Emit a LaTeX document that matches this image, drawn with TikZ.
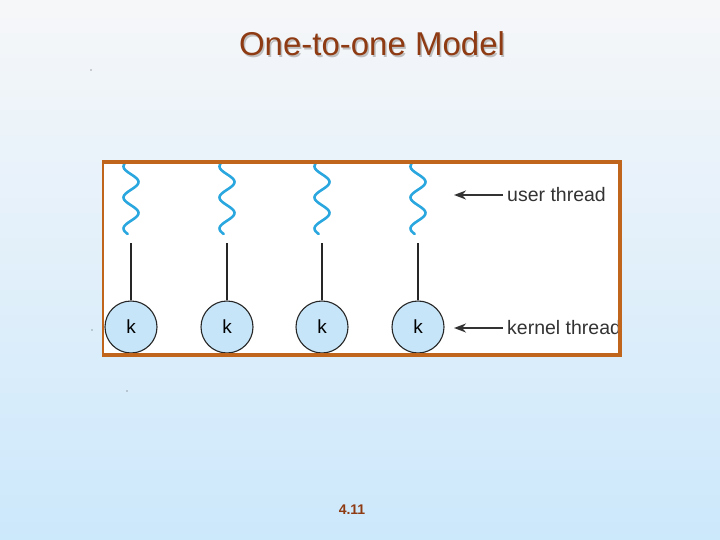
\documentclass[tikz,border=0pt]{standalone}
\usepackage{fontspec}
\setmainfont{Liberation Sans}
\usetikzlibrary{arrows.meta}
\definecolor{bgtop}{HTML}{F6F7F9}
\definecolor{bgbot}{HTML}{CCE8FB}
\definecolor{framec}{HTML}{C0661C}
\definecolor{wavec}{HTML}{2AA7DE}
\definecolor{kfill}{HTML}{C6E5F8}
\definecolor{titlec}{HTML}{8E3A12}
\tikzset{
  kthread/.style={circle, draw=black!85, line width=1.1pt, fill=kfill, minimum size=52pt, inner sep=0pt, font=\fontsize{19}{19}\selectfont},
  uwave/.style={draw=wavec, line width=2.6pt, line cap=round},
  link/.style={draw=black!85, line width=1.5pt},
  pointer/.style={draw=black!80, line width=1.8pt, -{Stealth[length=12pt,width=9pt]}},
  lbl/.style={anchor=west, inner sep=0pt, font=\fontsize{19.5}{19.5}\selectfont, text=black!80},
}
\begin{document}
\begin{tikzpicture}[x=1pt,y=-1pt]
\useasboundingbox (0,0) rectangle (720,540);
\shade[top color=bgtop, bottom color=bgbot] (0,0) rectangle (720,540);
% title
\node[text=black!25, font=\fontsize{33}{33}\selectfont] at (373.5,45.5) {One-to-one Model};
\node (title) [text=titlec, font=\fontsize{33}{33}\selectfont] at (372,44) {One-to-one Model};
% page number
\node (page) [text=titlec, font=\bfseries\fontsize{14}{14}\selectfont] at (352,510) {4.11};
% artifact dots
\fill[black!70] (91,70) circle (0.7);
\fill[black!70] (92,330) circle (0.7);
\fill[black!70] (127,391) circle (0.7);
% panel
\fill[white] (102,160) rectangle (622,356);
\foreach \i/\cx in {1/131,2/227,3/322,4/418}{
  \node (k\i) [kthread] at (\cx,327) {k};
  \coordinate (t\i) at (\cx,243);
  \draw[link] (t\i) -- (k\i.north);
  \draw[uwave] plot[smooth, domain=164:234, samples=60] ({\cx - 7.5*cos(180*(\x-166.5)/15.5)}, \x);
}
% labels
\node (ut) [lbl] at (507,195) {user thread};
\node (kt) [lbl] at (507,328) {kernel thread};
\coordinate (ua) at (454,195);
\coordinate (ka) at (454,328);
\draw[pointer] ([xshift=-4pt]ut.west) -- (ua);
\draw[pointer] ([xshift=-4pt]kt.west) -- (ka);
% frame
\draw[framec, line width=4pt] (102,162) -- (620,162) -- (620,354.5) -- (102,354.5);
\draw[framec, line width=1.5pt] (103,160) -- (103,356);
\end{tikzpicture}
\end{document}
